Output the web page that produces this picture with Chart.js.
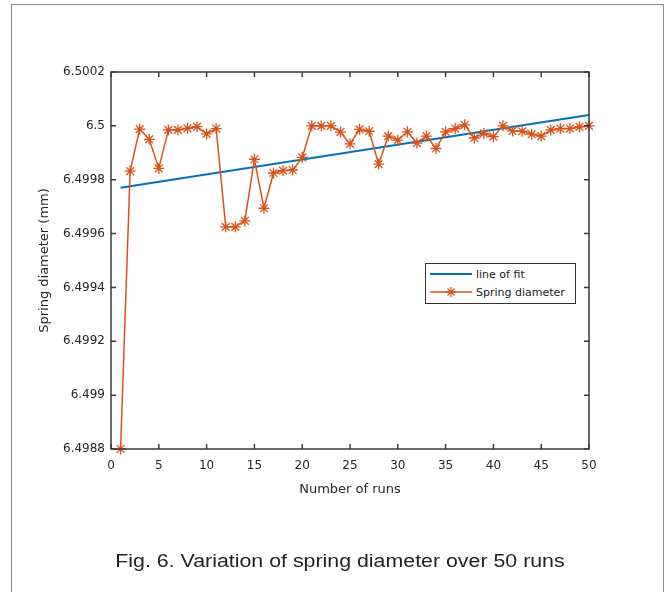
<!DOCTYPE html>
<html>
<head>
<meta charset="utf-8">
<script src="https://cdn.jsdelivr.net/npm/chart.js@4/dist/chart.umd.min.js"></script>
<style>
  html, body { margin: 0; padding: 0; background: #fff; }
  #wrap { position: relative; width: 670px; height: 592px; overflow: hidden; }
  #frame { position: absolute; left: 11px; top: 4px; width: 651px; height: 620px; border: 1.5px solid #8a8a8a; }
  canvas { position: absolute; left: 0; top: 0; }
  #legend { position: absolute; left: 425px; top: 263px; width: 149px; height: 39px; border: 1.5px solid #333;
            background: #fff; font-family: "DejaVu Sans", sans-serif; font-size: 11px; color: #222; }
  .row { position: absolute; left: 4px; height: 16px; display: flex; align-items: center; }
  .row svg { margin-right: 4px; }
  #caption { position: absolute; left: 0; width: 680px; top: 551px; text-align: center;
             font-family: "Liberation Sans", Arial, sans-serif; font-size: 17.5px; color: #222;
             transform: scaleX(1.22); transform-origin: 340px 0; }
</style>
</head>
<body>
<div id="wrap">
  <div id="frame"></div>
  <canvas id="chart" width="670" height="592"></canvas>
  <div id="legend">
    <div class="row" style="top:2px"><svg width="42" height="10"><line x1="0" y1="5" x2="42" y2="5" stroke="#0072BD" stroke-width="2"/></svg><span>line of fit</span></div>
    <div class="row" style="top:20px"><svg width="42" height="12"><line x1="0" y1="6" x2="42" y2="6" stroke="#D95319" stroke-width="1.5"/>
      <g stroke="#D95319" stroke-width="1.2"><line x1="21" y1="1" x2="21" y2="11"/><line x1="16" y1="6" x2="26" y2="6"/><line x1="17.5" y1="2.5" x2="24.5" y2="9.5"/><line x1="17.5" y1="9.5" x2="24.5" y2="2.5"/></g></svg><span>Spring diameter</span></div>
  </div>
  <div id="caption">Fig. 6. Variation of spring diameter over 50 runs</div>
</div>
<script>
const runs = [1, 2, 3, 4, 5, 6, 7, 8, 9, 10, 11, 12, 13, 14, 15, 16, 17, 18, 19, 20, 21, 22, 23, 24, 25,
              26, 27, 28, 29, 30, 31, 32, 33, 34, 35, 36, 37, 38, 39, 40, 41, 42, 43, 44, 45, 46, 47, 48, 49, 50];
const diameter = [6.4988, 6.499832, 6.499988, 6.49995, 6.499842, 6.499985, 6.499985, 6.499991, 6.499997, 6.49997,
                  6.49999, 6.499625, 6.499625, 6.499647, 6.499876, 6.499694, 6.499825, 6.499834, 6.499836, 6.499883,
                  6.5, 6.5, 6.5, 6.499977, 6.499933, 6.499987, 6.49998, 6.499858, 6.499962, 6.499947,
                  6.499978, 6.499936, 6.499962, 6.499916, 6.499978, 6.49999, 6.500004, 6.499955, 6.499972, 6.49996,
                  6.5, 6.499981, 6.49998, 6.499969, 6.499962, 6.499985, 6.49999, 6.49999, 6.499996, 6.5];
const fitX = [1, 50];
const fitY = [6.49977, 6.50004];
const xTicks = [0, 5, 10, 15, 20, 25, 30, 35, 40, 45, 50];
const yTicks = [6.4988, 6.499, 6.4992, 6.4994, 6.4996, 6.4998, 6.5, 6.5002];
const yTickLabels = ['6.4988', '6.499', '6.4992', '6.4994', '6.4996', '6.4998', '6.5', '6.5002'];

const tickFont = {family: 'DejaVu Sans', size: 12};
const titleFont = {family: 'DejaVu Sans', size: 13};

// matlab style box with inward ticks on every side
const axesBox = {
    id: 'axesBox',
    afterDatasetsDraw(chart) {
        const {ctx, chartArea: a, scales: {x, y}} = chart;
        ctx.save();
        ctx.strokeStyle = '#3a3a3a';
        ctx.lineWidth = 1.5;
        ctx.beginPath();
        x.ticks.forEach(t => {
            const px = x.getPixelForValue(t.value);
            ctx.moveTo(px, a.bottom); ctx.lineTo(px, a.bottom - 5);
            ctx.moveTo(px, a.top); ctx.lineTo(px, a.top + 5);
        });
        y.ticks.forEach(t => {
            const py = y.getPixelForValue(t.value);
            ctx.moveTo(a.left, py); ctx.lineTo(a.left + 5, py);
            ctx.moveTo(a.right, py); ctx.lineTo(a.right - 5, py);
        });
        ctx.stroke();
        ctx.strokeRect(a.left, a.top, a.right - a.left, a.bottom - a.top);
        ctx.restore();
    }
};

const ctx = document.getElementById('chart');

new Chart(ctx, {
    type: 'line',
    data: {
        datasets: [{
            label: 'line of fit',
            data: fitX.map((v, i) => ({x: v, y: fitY[i]})),
            borderColor: '#0072BD',
            borderWidth: 2,
            pointRadius: 0,
            order: 2
        }, {
            label: 'Spring diameter',
            data: runs.map((v, i) => ({x: v, y: diameter[i]})),
            borderColor: '#D95319',
            borderWidth: 1.5,
            pointStyle: 'star',
            pointRadius: 5.5,
            pointBorderWidth: 1.3,
            pointBorderColor: '#D95319',
            pointBackgroundColor: '#D95319',
            clip: false,
            order: 1
        }]
    },
    options: {
        responsive: false,
        animation: false,
        devicePixelRatio: 1,
        layout: {padding: {left: 0, top: 72, right: 81, bottom: 88}},
        plugins: {legend: {display: false}, tooltip: {enabled: false}},
        scales: {
            x: {
                type: 'linear',
                min: 0,
                max: 50,
                afterBuildTicks: scale => { scale.ticks = xTicks.map(v => ({value: v})); },
                afterFit: scale => { scale.height = 55; },
                grid: {display: false, drawTicks: false},
                border: {display: false},
                ticks: {font: tickFont, color: '#262626', padding: 10, maxRotation: 0,
                        callback: v => String(v)},
                title: {display: true, text: 'Number of runs', font: titleFont, color: '#262626',
                        padding: {top: 0, bottom: 7}}
            },
            y: {
                type: 'linear',
                min: 6.4988,
                max: 6.5002,
                afterBuildTicks: scale => { scale.ticks = yTicks.map(v => ({value: v})); },
                afterFit: scale => { scale.width = 111; },
                grid: {display: false, drawTicks: false},
                border: {display: false},
                ticks: {font: tickFont, color: '#262626', padding: 6,
                        callback: (v, i) => yTickLabels[i]},
                title: {display: true, text: 'Spring diameter (mm)', font: titleFont, color: '#262626',
                        padding: {top: 37, bottom: 0}}
            }
        }
    },
    plugins: [axesBox]
});
</script>
</body>
</html>
